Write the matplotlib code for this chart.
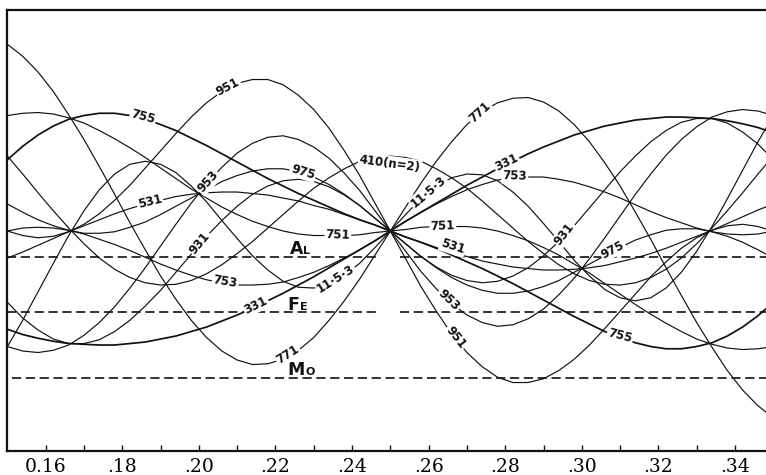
import matplotlib
matplotlib.use("Agg")
import matplotlib.pyplot as plt

# parameter values (x)
x = [0.150, 0.154, 0.158, 0.162, 0.166, 0.170, 0.174, 0.178, 0.182, 0.186,
     0.190, 0.194, 0.198, 0.202, 0.206, 0.210, 0.214, 0.218, 0.222, 0.226,
     0.230, 0.234, 0.238, 0.242, 0.246, 0.250, 0.254, 0.258, 0.262, 0.266,
     0.270, 0.274, 0.278, 0.282, 0.286, 0.290, 0.294, 0.298, 0.302, 0.306,
     0.310, 0.314, 0.318, 0.322, 0.326, 0.330, 0.334, 0.338, 0.342, 0.346,
     0.350]

r951 = [0.00, -0.06, -0.09, -0.07, -0.01, 0.09, 0.23, 0.41, 0.61, 0.84,
        1.07, 1.30, 1.52, 1.71, 1.86, 1.97, 2.02, 2.02, 1.95, 1.81,
        1.62, 1.37, 1.07, 0.74, 0.37, 0.00, -0.37, -0.74, -1.07, -1.37,
        -1.62, -1.81, -1.95, -2.02, -2.02, -1.97, -1.86, -1.71, -1.52, -1.30,
        -1.07, -0.84, -0.61, -0.41, -0.23, -0.09, 0.01, 0.07, 0.09, 0.06,
        0.00]
r755 = [0.95, 1.13, 1.28, 1.40, 1.49, 1.54, 1.57, 1.57, 1.54, 1.49,
        1.42, 1.34, 1.24, 1.14, 1.03, 0.92, 0.81, 0.70, 0.60, 0.50,
        0.41, 0.32, 0.23, 0.15, 0.08, 0.00, -0.08, -0.15, -0.23, -0.32,
        -0.41, -0.50, -0.60, -0.70, -0.81, -0.92, -1.03, -1.14, -1.24, -1.34,
        -1.42, -1.49, -1.54, -1.57, -1.57, -1.54, -1.49, -1.40, -1.28, -1.13,
        -0.95]
r953 = [-1.54, -1.60, -1.62, -1.59, -1.52, -1.39, -1.22, -1.01, -0.76, -0.49,
        -0.20, 0.09, 0.37, 0.63, 0.85, 1.04, 1.17, 1.25, 1.27, 1.22,
        1.12, 0.97, 0.77, 0.54, 0.27, 0.00, -0.27, -0.54, -0.77, -0.97,
        -1.12, -1.22, -1.27, -1.25, -1.17, -1.04, -0.85, -0.63, -0.37, -0.09,
        0.20, 0.49, 0.76, 1.01, 1.22, 1.39, 1.52, 1.59, 1.62, 1.60,
        1.54]
r975 = [0.36, 0.25, 0.15, 0.07, 0.01, -0.03, -0.03, -0.01, 0.05, 0.12,
        0.22, 0.33, 0.44, 0.55, 0.66, 0.74, 0.80, 0.83, 0.83, 0.79,
        0.72, 0.62, 0.49, 0.34, 0.17, 0.00, -0.17, -0.34, -0.49, -0.62,
        -0.72, -0.79, -0.83, -0.83, -0.80, -0.74, -0.66, -0.55, -0.44, -0.33,
        -0.22, -0.12, -0.05, 0.01, 0.03, 0.03, -0.01, -0.07, -0.15, -0.25,
        -0.36]
r531 = [-0.36, -0.28, -0.19, -0.10, -0.01, 0.07, 0.15, 0.23, 0.30, 0.36,
        0.41, 0.46, 0.49, 0.51, 0.52, 0.52, 0.50, 0.48, 0.44, 0.40,
        0.34, 0.29, 0.22, 0.15, 0.08, 0.00, -0.08, -0.15, -0.22, -0.29,
        -0.34, -0.40, -0.44, -0.48, -0.50, -0.52, -0.52, -0.51, -0.49, -0.46,
        -0.41, -0.36, -0.30, -0.23, -0.15, -0.07, 0.01, 0.10, 0.19, 0.28,
        0.36]
r751 = [1.54, 1.57, 1.58, 1.56, 1.51, 1.44, 1.34, 1.23, 1.11, 0.98,
        0.84, 0.70, 0.56, 0.44, 0.32, 0.22, 0.13, 0.06, 0.00, -0.04,
        -0.06, -0.06, -0.06, -0.05, -0.02, 0.00, 0.02, 0.05, 0.06, 0.06,
        0.06, 0.04, 0.00, -0.06, -0.13, -0.22, -0.32, -0.44, -0.56, -0.70,
        -0.84, -0.98, -1.11, -1.23, -1.34, -1.44, -1.51, -1.56, -1.58, -1.57,
        -1.54]
r931 = [-0.95, -1.16, -1.32, -1.44, -1.50, -1.50, -1.45, -1.34, -1.19, -1.00,
        -0.79, -0.55, -0.31, -0.07, 0.14, 0.33, 0.49, 0.60, 0.67, 0.69,
        0.66, 0.59, 0.48, 0.34, 0.17, 0.00, -0.17, -0.34, -0.48, -0.59,
        -0.66, -0.69, -0.67, -0.60, -0.49, -0.33, -0.14, 0.07, 0.31, 0.55,
        0.79, 1.00, 1.19, 1.34, 1.45, 1.50, 1.50, 1.44, 1.32, 1.16,
        0.95]
r753 = [0.00, 0.04, 0.05, 0.04, 0.01, -0.04, -0.11, -0.18, -0.26, -0.35,
        -0.44, -0.52, -0.59, -0.65, -0.69, -0.72, -0.72, -0.71, -0.68, -0.62,
        -0.55, -0.46, -0.36, -0.25, -0.13, 0.00, 0.13, 0.25, 0.36, 0.46,
        0.55, 0.62, 0.68, 0.71, 0.72, 0.72, 0.69, 0.65, 0.59, 0.52,
        0.44, 0.35, 0.26, 0.18, 0.11, 0.04, -0.01, -0.04, -0.05, -0.04,
        0.00]
r1153 = [-1.54, -1.19, -0.81, -0.43, -0.06, 0.27, 0.55, 0.76, 0.89, 0.93,
         0.89, 0.78, 0.60, 0.39, 0.14, -0.10, -0.33, -0.52, -0.67, -0.75,
         -0.76, -0.71, -0.59, -0.43, -0.22, 0.00, 0.22, 0.43, 0.59, 0.71,
         0.76, 0.75, 0.67, 0.52, 0.33, 0.10, -0.14, -0.39, -0.60, -0.78,
         -0.89, -0.93, -0.89, -0.76, -0.55, -0.27, 0.06, 0.43, 0.81, 1.19,
         1.54]
r331 = [-1.31, -1.38, -1.43, -1.47, -1.50, -1.51, -1.52, -1.52, -1.50, -1.48,
        -1.44, -1.40, -1.34, -1.28, -1.20, -1.12, -1.03, -0.93, -0.83, -0.72,
        -0.61, -0.49, -0.37, -0.25, -0.13, 0.00, 0.13, 0.25, 0.37, 0.49,
        0.61, 0.72, 0.83, 0.93, 1.03, 1.12, 1.20, 1.28, 1.34, 1.40,
        1.44, 1.48, 1.50, 1.52, 1.52, 1.51, 1.50, 1.47, 1.43, 1.38,
        1.31]
r771 = [2.49, 2.33, 2.12, 1.86, 1.55, 1.22, 0.86, 0.49, 0.11, -0.25,
        -0.60, -0.91, -1.19, -1.42, -1.60, -1.72, -1.78, -1.77, -1.71, -1.59,
        -1.42, -1.19, -0.93, -0.64, -0.32, 0.00, 0.32, 0.64, 0.93, 1.19,
        1.42, 1.59, 1.71, 1.77, 1.78, 1.72, 1.60, 1.42, 1.19, 0.91,
        0.60, 0.25, -0.11, -0.49, -0.86, -1.22, -1.55, -1.86, -2.12, -2.33,
        -2.49]
r410n2 = [1.00, 0.76, 0.51, 0.27, 0.04, -0.17, -0.36, -0.51, -0.62, -0.69,
          -0.72, -0.71, -0.66, -0.57, -0.45, -0.30, -0.14, 0.04, 0.22, 0.40,
          0.57, 0.71, 0.83, 0.93, 0.98, 1.00, 0.98, 0.93, 0.83, 0.71,
          0.57, 0.40, 0.22, 0.04, -0.14, -0.30, -0.45, -0.57, -0.66, -0.71,
          -0.72, -0.69, -0.62, -0.51, -0.36, -0.17, 0.04, 0.27, 0.51, 0.76,
          1.00]

series = [r951, r755, r953, r975, r531, r751, r931, r753, r1153, r331, r771, r410n2]
heavy = [False, True, False, False, False, False, False, False, False, True, False, False]

# horizontal reference levels
level_names = [("A", "L"), ("F", "E"), ("M", "O")]
level_values = [-0.343, -1.076, -1.964]

# curve labels: text, x, y, rotation
label_texts = ["951", "755", "953", "975", "531", "751", "931", "753", "11·5·3", "331", "771",
               "410(n=2)",
               "771", "331", "753", "11·5·3", "751", "931", "531", "953", "951", "975", "755"]
label_x = [0.2076, 0.1854, 0.2024, 0.2272, 0.1872, 0.2363, 0.2003, 0.2069, 0.2358, 0.2149, 0.2233,
           0.2499,
           0.2734, 0.2804, 0.2825, 0.2600, 0.2637, 0.2955, 0.2663, 0.2653, 0.2671, 0.3081, 0.3100]
label_y = [1.92, 1.52, 0.66, 0.79, 0.39, -0.05, -0.16, -0.68, -0.64, -0.99, -1.65,
           0.90,
           1.58, 0.91, 0.73, 0.52, 0.07, -0.04, -0.21, -0.92, -1.42, -0.25, -1.40]
label_rot = [28, -15, 48, -17, 14, -2, 50, -10, 32, 26, 32,
             -8,
             42, 26, -2, 40, 2, 52, -18, -44, -52, 28, -15]

xticks = [0.16, 0.18, 0.20, 0.22, 0.24, 0.26, 0.28, 0.30, 0.32, 0.34]
xtick_labels = ["0.16", ".18", ".20", ".22", ".24", ".26", ".28", ".30", ".32", ".34"]
xminor = [0.17, 0.19, 0.21, 0.23, 0.25, 0.27, 0.29, 0.31, 0.33]

fig = plt.figure(figsize=(7.66, 4.75), dpi=100)
ax = fig.add_axes([7.4 / 766, 24 / 475, 1 - 7.4 / 766, 441 / 475])
ax.set_xlim(0.15, 0.3481)
ax.set_ylim(-2.933, 2.947)

for s, hv in zip(series, heavy):
    ax.plot(x, s, color="#111111", lw=1.25 if hv else 0.85, solid_capstyle="round")

# dashed reference levels (Al and Fe interrupted near x = 0.25)
dash = (0, (5.5, 2.8))
for i, yv in enumerate(level_values):
    if i < 2:
        ax.plot([0.15, 0.2465], [yv, yv], color="#111111", lw=1.2, ls=dash)
        ax.plot([0.2525, 0.3481], [yv, yv], color="#111111", lw=1.2, ls=dash)
    else:
        ax.plot([0.1512, 0.3481], [yv, yv], color="#111111", lw=1.2, ls=dash)

level_x_big = [0.2238, 0.2230, 0.2231]
level_x_small = [0.2273, 0.2263, 0.2278]
level_y_text = [-0.31, -1.05, -1.925]
for (big, small), xb, xs_, yt in zip(level_names, level_x_big, level_x_small, level_y_text):
    ax.text(xb, yt, big, fontsize=12.5, fontweight="bold", family="DejaVu Sans",
            ha="left", va="baseline", color="#111111")
    ax.text(xs_, yt, small, fontsize=8, fontweight="bold", family="DejaVu Sans",
            ha="left", va="baseline", color="#111111")

for t, lx, ly, rot in zip(label_texts, label_x, label_y, label_rot):
    ax.text(lx, ly, t, fontsize=8.5, fontweight="bold", family="DejaVu Sans",
            ha="center", va="center", rotation=rot, rotation_mode="anchor",
            color="#111111",
            bbox=dict(boxstyle="square,pad=0.1", fc="white", ec="none"))

ax.spines["right"].set_visible(False)
for s in ["left", "top", "bottom"]:
    ax.spines[s].set_linewidth(1.6)
    ax.spines[s].set_color("#111111")
ax.set_yticks([])
ax.set_xticks(xticks)
ax.set_xticklabels(xtick_labels, family="DejaVu Serif", fontsize=13.5)
ax.set_xticks(xminor, minor=True)
ax.tick_params(axis="x", which="both", direction="in", length=4, width=1,
               pad=5, color="#111111")

fig.savefig("out.png", dpi=100)
